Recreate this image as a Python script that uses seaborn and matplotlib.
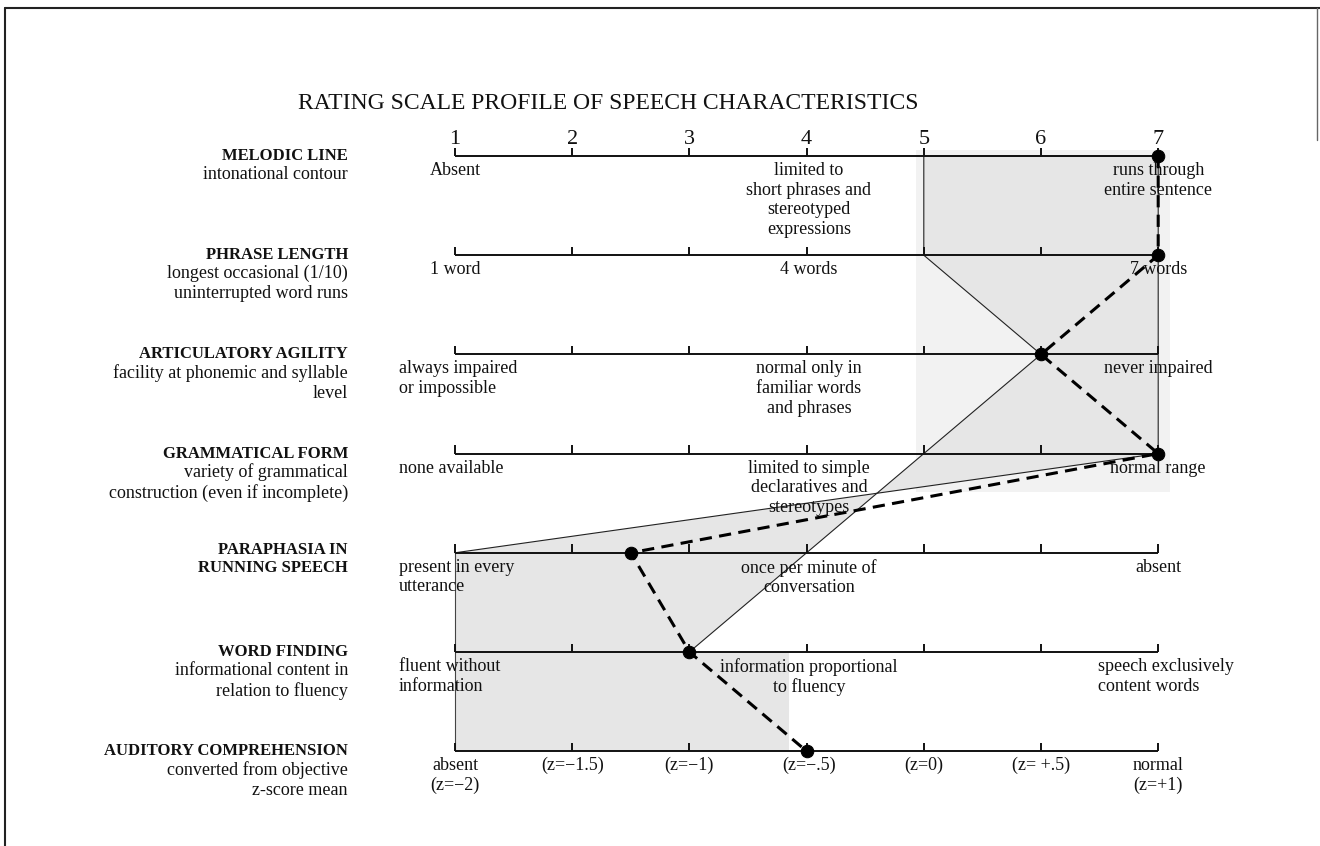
import matplotlib
matplotlib.use('Agg')
import matplotlib.pyplot as plt
import seaborn as sns
import pandas as pd
from matplotlib.lines import Line2D

sns.set_theme(style='white')
plt.rcParams['font.family'] = ['Liberation Serif', 'DejaVu Serif']
plt.rcParams['hatch.color'] = '#bdbdbd'
plt.rcParams['hatch.linewidth'] = 0.8

# --- data ---
scale_points = [1, 2, 3, 4, 5, 6, 7]
characteristics = ['MELODIC LINE', 'PHRASE LENGTH', 'ARTICULATORY AGILITY',
                   'GRAMMATICAL FORM', 'PARAPHASIA IN\nRUNNING SPEECH',
                   'WORD FINDING', 'AUDITORY COMPREHENSION']
descriptions = ['intonational contour',
                'longest occasional (1/10)\nuninterrupted word runs',
                'facility at phonemic and syllable\nlevel',
                'variety of grammatical\nconstruction (even if incomplete)',
                '',
                'informational content in\nrelation to fluency',
                'converted from objective\nz-score mean']
low_anchors = ['Absent', '1 word', 'always impaired\nor impossible',
               'none available', 'present in every\nutterance',
               'fluent without\ninformation', 'absent\n(z=\u22122)']
mid_anchors = ['limited to\nshort phrases and\nstereotyped\nexpressions',
               '4 words', 'normal only in\nfamiliar words\nand phrases',
               'limited to simple\ndeclaratives and\nstereotypes',
               'once per minute of\nconversation',
               'information proportional\nto fluency', '(z=\u2212.5)']
high_anchors = ['runs through\nentire sentence', '7 words', 'never impaired',
                'normal range', 'absent', 'speech exclusively\ncontent words',
                'normal\n(z=+1)']
z_scores = ['(z=\u22121.5)', '(z=\u22121)', '(z=\u2212.5)', '(z=0)', '(z= +.5)']
patient_ratings = [7, 7, 6, 7, 2.5, 3, 4]

# shaded ranges (rating, row)
upper_range = [(5, 0), (7, 0), (7, 3), (4.6, 3.4), (6, 2), (5, 1)]
lower_range = [(1, 4), (4.6, 3.4), (3, 5), (3.85, 5), (3.85, 6), (1, 6)]

n_rows = len(characteristics)
XLIM = (1 - 455 / 117.2, 1 + 865 / 117.2)
YLIM = (6.956, -1.573)

fig = plt.figure(figsize=(13.2, 8.46), dpi=100)
ax = fig.add_axes([0, 0, 1, 1])

# light screen-tone patch behind the upper range
ax.fill([4.93, 7.1, 7.1, 4.93], [-0.06, -0.06, 3.39, 3.39],
        color='#f2f2f2', lw=0, zorder=0)

# shaded ranges
for poly in (upper_range, lower_range):
    xs = [p[0] for p in poly]
    ys = [p[1] for p in poly]
    ax.fill(xs, ys, facecolor='#e6e6e6', edgecolor='#e6e6e6', lw=0, zorder=1,
            hatch='...')

# thin range boundaries
ux = [p[0] for p in upper_range] + [upper_range[0][0]]
uy = [p[1] for p in upper_range] + [upper_range[0][1]]
ax.plot(ux, uy, color='#222222', lw=0.8, zorder=2)
ax.plot([1, 4.6], [4, 3.4], color='#222222', lw=0.8, zorder=2)
ax.plot([4.6, 3], [3.4, 5], color='#222222', lw=0.8, zorder=2)
ax.plot([1, 1], [4, 6], color='#444444', lw=0.8, zorder=2)

# scale lines with ticks
for r in range(n_rows):
    ax.hlines(r, scale_points[0], scale_points[-1], color='#111111', lw=1.4, zorder=3)
    ax.vlines(scale_points, r - 0.085, r, color='#111111', lw=1.4, zorder=3)

for v in scale_points:
    ax.text(v, -0.07, str(v), ha='center', va='bottom', fontsize=16, color='#111111')

# patient profile
df = pd.DataFrame({'rating': patient_ratings, 'row': list(range(n_rows))})
sns.lineplot(data=df, x='rating', y='row', sort=False, estimator=None,
             color='black', lw=2.2, ls='--', marker='o', markersize=9,
             markeredgecolor='black', ax=ax, zorder=5)
ax.lines[-1].set_dashes([4, 2.4])
ax.set_xlim(*XLIM)
ax.set_ylim(*YLIM)
ax.axis('off')

txt = dict(color='#111111', linespacing=1.2)

# row labels on the left
label_x = 1 - (455 - 348) / 117.2
for r in range(n_rows):
    head = characteristics[r]
    if '\n' in head:
        ax.text(label_x, r - 0.11, head, ha='right', va='top', fontsize=12,
                fontweight='bold', **txt)
    else:
        ax.text(label_x, r, head, ha='right', va='center', fontsize=12,
                fontweight='bold', **txt)
    if descriptions[r]:
        ax.text(label_x, r + 0.1, descriptions[r], ha='right', va='top',
                fontsize=13, **txt)

# anchor descriptions under each scale
low_centered = [True, True, False, False, False, False, True]
for r in range(n_rows):
    if low_centered[r]:
        ax.text(1.0, r + 0.06, low_anchors[r], ha='center', va='top',
                fontsize=13, **txt)
    else:
        ax.text(0.52, r + 0.06, low_anchors[r], ha='left', va='top',
                fontsize=13, **txt)
    ax.text(4.02, r + 0.06, mid_anchors[r], ha='center', va='top',
            fontsize=13, zorder=6, **txt)
    if r == 5:
        ax.text(6.49, r + 0.06, high_anchors[r], ha='left', va='top',
                fontsize=13, **txt)
    else:
        ax.text(7.0, r + 0.06, high_anchors[r], ha='center', va='top',
                fontsize=13, zorder=6, **txt)

for v, z in zip([2, 3, 5, 6], [z_scores[0], z_scores[1], z_scores[3], z_scores[4]]):
    ax.text(v, n_rows - 1 + 0.06, z, ha='center', va='top', fontsize=13, **txt)

ax.text(1 - (455 - 608) / 117.2, -0.53, 'RATING SCALE PROFILE OF SPEECH CHARACTERISTICS',
        ha='center', va='center', fontsize=17, color='#111111')

# page frame
fig.add_artist(Line2D([5 / 1320, 5 / 1320], [0, 1 - 8 / 846], color='#222222', lw=1.5))
fig.add_artist(Line2D([5 / 1320, 1], [1 - 8 / 846, 1 - 8 / 846], color='#222222', lw=1.5))
fig.add_artist(Line2D([1317 / 1320, 1317 / 1320], [1 - 8 / 846, 1 - 140 / 846],
                      color='#666666', lw=1.0))

fig.savefig('out.png', dpi=100, facecolor='white')
